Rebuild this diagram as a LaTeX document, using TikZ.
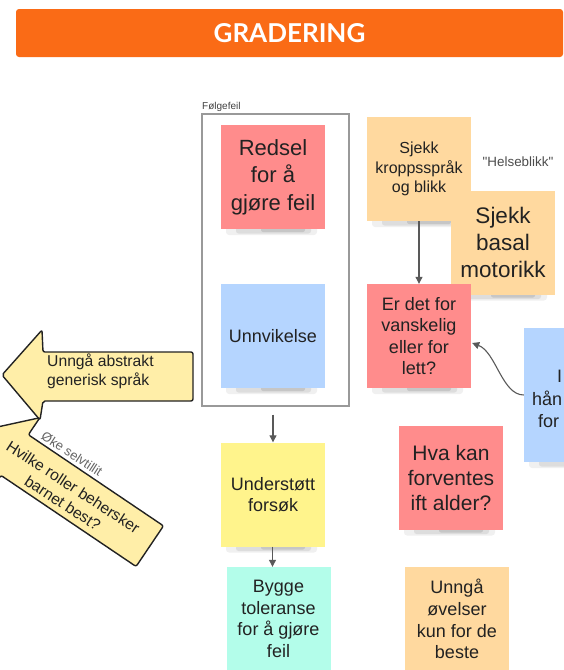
\documentclass[tikz,border=0pt]{standalone}
\usepackage{fontspec}
\setmainfont{Liberation Sans}
\newfontfamily\latofont{Lato}
\newfontfamily\qfont{Liberation Sans}[Ligatures=TeXOff]
\usetikzlibrary{arrows.meta}
\definecolor{hdr}{HTML}{FA6B16}
\definecolor{salmon}{HTML}{FF8C8C}
\definecolor{skyb}{HTML}{B5D5FF}
\definecolor{lemon}{HTML}{FFF48C}
\definecolor{mint}{HTML}{B3FDEA}
\definecolor{peach}{HTML}{FFD99F}
\definecolor{arrowy}{HTML}{FFEEA8}
\definecolor{ink}{HTML}{222222}
\newcommand\fs[2]{\fontsize{#1}{#2}\selectfont}
\tikzset{
 note/.style={rectangle, inner sep=3pt, align=center, text=ink},
 conn/.style={draw=black!65, line width=1.1pt, -{Triangle[length=7pt,width=7pt]}},
 bigarrow/.style={fill=arrowy, draw=ink, line width=1.4pt, rounded corners=2pt, line join=round},
}
% name, cx, cy, size, colour, font, text
\newcommand\pnote[7]{%
  \pgfmathsetmacro\nxa{#2-#4/2}\pgfmathsetmacro\nxb{#2+#4/2}\pgfmathsetmacro\nyb{#3+#4/2}%
  \fill[black,opacity=.06,rounded corners=3pt] (\nxa+5,\nyb-3) rectangle (\nxb-8,\nyb+6);
  \fill[black,opacity=.08,rounded corners=2.5pt] (\nxa+15,\nyb-3) rectangle (\nxb-14,\nyb+4.5);
  \fill[black,opacity=.10,rounded corners=2pt] (\nxa+40,\nyb-2) rectangle (\nxb-20,\nyb+3);
  \node[note, fill=#5, minimum size=#4pt, font=#6] (#1) at (#2,#3) {#7};
}
\begin{document}
\begin{tikzpicture}[x=1pt,y=-1pt]
\useasboundingbox (0,0) rectangle (564,670);
\clip (0,0) rectangle (564,670);

% header
\node[fill=hdr, rounded corners=3pt, minimum width=547pt, minimum height=48pt, text=white,
      font=\latofont\bfseries\fs{26}{30}] (title) at (289.5,33) {GRADERING};

% frame
\node[draw=black!40, line width=1.3pt, minimum width=147pt, minimum height=292pt, inner sep=0] (frame) at (275.5,260) {};
\node[anchor=base west, inner sep=0, font=\fs{10}{12}, text=black!75] (flabel) at (202,109) {Følgefeil};

% notes
\pnote{redsel}{273}{177}{104}{salmon}{\fs{22}{27.5}}{Redsel\\for å\\gjøre feil}
\pnote{unnvik}{273}{336}{104}{skyb}{\fs{18}{22}}{Unnvikelse}
\pnote{under}{273}{494.5}{104}{lemon}{\fs{18}{21.7}}{Understøtt\\forsøk}
\pnote{bygge}{278.5}{619}{104}{mint}{\fs{18}{21.7}}{Bygge\\toleranse\\for å gjøre\\feil}
\pnote{kropp}{419}{169}{104}{peach}{\fs{16}{19.5}}{Sjekk\\kroppsspråk\\og blikk}
\pnote{basal}{503}{242.5}{104}{peach}{\fs{22.5}{26.7}}{Sjekk\\basal\\motorikk}
\pnote{erdet}{419}{336}{104}{salmon}{\fs{18}{21.5}}{Er det for\\vanskelig\\eller for\\lett?}
\pnote{blue}{591}{395}{134}{skyb}{\fs{18}{22}}{}
\pnote{hva}{451}{477.5}{104}{salmon}{\fs{21}{25}}{Hva kan\\forventes\\ift alder?}
\pnote{unnga}{457}{619}{104}{peach}{\fs{18}{21.7}}{Unngå\\øvelser\\kun for de\\beste}

\node[font=\qfont\fs{13.4}{16}, text=black!70, inner sep=0] (helse) at (518,162) {"Helseblikk"};

% visible fragments of the cut-off blue note
\node[anchor=base west, inner sep=0, font=\fs{18}{22}, text=ink] (bl1) at (557,382) {I};
\node[anchor=base west, inner sep=0, font=\fs{18}{22}, text=ink] (bl2) at (532,405) {hån};
\node[anchor=base west, inner sep=0, font=\fs{18}{22}, text=ink] (bl3) at (538,427) {for};

% connectors
\draw[conn, shorten <=8pt] (under.north |- frame.south) -- (under.north);
\draw[conn] ([xshift=-0.5pt]under.south) -- ([xshift=-0.5pt]under.south |- bygge.north);
\draw[conn] (kropp.south) -- (erdet.north);
\draw[conn] (blue.west) .. controls (502,395) and (496,352) .. ([xshift=1pt,yshift=-7pt]erdet.east);

% big block arrows
\begin{scope}[shift={(-21,431)}, rotate=-34]
\draw[bigarrow] (0,0) -- (43,-45) -- (43,-24.5) -- (206,-24.5) -- (206,24.5) -- (43,24.5) -- (43,45) -- cycle;
\end{scope}
\draw[bigarrow] (2,375) -- (42,330) -- (43,352) -- (193,352) -- (193,401) -- (43,401) -- (40,420) -- cycle;

\node[font=\fs{15.7}{19}, align=left, anchor=west, inner sep=0, text=ink] (abstrakt) at (47,371.5) {Unngå abstrakt\\generisk språk};
\node[font=\fs{13}{15}, rotate=-33, fill=white, inner sep=1.5pt, text=black!60] (selv) at (72,454) {Øke selvtillit};
\node[font=\fs{15.6}{19}, align=center, rotate=-33, inner sep=0, text=ink] (roller) at (68,495) {Hvilke roller behersker\\barnet best?};
\end{tikzpicture}
\end{document}
